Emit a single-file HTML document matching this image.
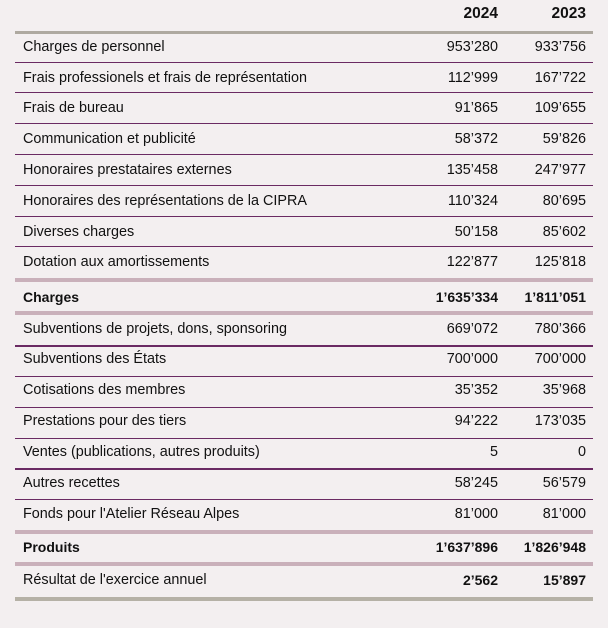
<!DOCTYPE html>
<html><head><meta charset="utf-8"><style>
body{margin:0;width:608px;height:628px;background:#f3eff0;font-family:"Liberation Sans",Arial,sans-serif;color:#111;position:relative;overflow:hidden}
.l{position:absolute;left:15px;width:578px}
.t{position:absolute;font-size:14.4px;line-height:16px;margin-top:1px}
.a{left:23px}.b{right:110px;text-align:right}.c{right:22px;text-align:right}
.bold{font-weight:bold;font-size:14px}
</style></head><body>
<div class="t b bold" style="top:5px;font-size:15.5px">2024</div>
<div class="t c bold" style="top:5px;font-size:15.5px">2023</div>
<div class="l" style="top:31px;height:3px;background:#aea9a0"></div>

<div class="t a" style="top:38px">Charges de personnel</div><div class="t b" style="top:38px">953’280</div><div class="t c" style="top:38px">933’756</div>
<div class="l" style="top:62px;height:1px;background:#6a2a63"></div>
<div class="t a" style="top:69px">Frais professionels et frais de représentation</div><div class="t b" style="top:69px">112’999</div><div class="t c" style="top:69px">167’722</div>
<div class="l" style="top:92px;height:1px;background:#6a2a63"></div>
<div class="t a" style="top:99px">Frais de bureau</div><div class="t b" style="top:99px">91’865</div><div class="t c" style="top:99px">109’655</div>
<div class="l" style="top:123px;height:1px;background:#6a2a63"></div>
<div class="t a" style="top:130px">Communication et publicité</div><div class="t b" style="top:130px">58’372</div><div class="t c" style="top:130px">59’826</div>
<div class="l" style="top:154px;height:1px;background:#6a2a63"></div>
<div class="t a" style="top:161px">Honoraires prestataires externes</div><div class="t b" style="top:161px">135’458</div><div class="t c" style="top:161px">247’977</div>
<div class="l" style="top:185px;height:1px;background:#6a2a63"></div>
<div class="t a" style="top:192px">Honoraires des représentations de la CIPRA</div><div class="t b" style="top:192px">110’324</div><div class="t c" style="top:192px">80’695</div>
<div class="l" style="top:216px;height:1px;background:#6a2a63"></div>
<div class="t a" style="top:223px">Diverses charges</div><div class="t b" style="top:223px">50’158</div><div class="t c" style="top:223px">85’602</div>
<div class="l" style="top:246px;height:1px;background:#6a2a63"></div>
<div class="t a" style="top:253px">Dotation aux amortissements</div><div class="t b" style="top:253px">122’877</div><div class="t c" style="top:253px">125’818</div>
<div class="l" style="top:278px;height:4px;background:#c9b0ba"></div>
<div class="t a bold" style="top:288px">Charges</div><div class="t b bold" style="top:288px">1’635’334</div><div class="t c bold" style="top:288px">1’811’051</div>
<div class="l" style="top:311px;height:4px;background:#c9b0ba"></div>
<div class="t a" style="top:320px">Subventions de projets, dons, sponsoring</div><div class="t b" style="top:320px">669’072</div><div class="t c" style="top:320px">780’366</div>
<div class="l" style="top:345px;height:2px;background:#6a2a63"></div>
<div class="t a" style="top:350px">Subventions des États</div><div class="t b" style="top:350px">700’000</div><div class="t c" style="top:350px">700’000</div>
<div class="l" style="top:376px;height:1px;background:#6a2a63"></div>
<div class="t a" style="top:381px">Cotisations des membres</div><div class="t b" style="top:381px">35’352</div><div class="t c" style="top:381px">35’968</div>
<div class="l" style="top:407px;height:1px;background:#6a2a63"></div>
<div class="t a" style="top:412px">Prestations pour des tiers</div><div class="t b" style="top:412px">94’222</div><div class="t c" style="top:412px">173’035</div>
<div class="l" style="top:438px;height:1px;background:#6a2a63"></div>
<div class="t a" style="top:443px">Ventes (publications, autres produits)</div><div class="t b" style="top:443px">5</div><div class="t c" style="top:443px">0</div>
<div class="l" style="top:468px;height:2px;background:#6a2a63"></div>
<div class="t a" style="top:474px">Autres recettes</div><div class="t b" style="top:474px">58’245</div><div class="t c" style="top:474px">56’579</div>
<div class="l" style="top:499px;height:1px;background:#6a2a63"></div>
<div class="t a" style="top:505px">Fonds pour l'Atelier Réseau Alpes</div><div class="t b" style="top:505px">81’000</div><div class="t c" style="top:505px">81’000</div>
<div class="l" style="top:530px;height:4px;background:#c9b0ba"></div>
<div class="t a bold" style="top:538px">Produits</div><div class="t b bold" style="top:538px">1’637’896</div><div class="t c bold" style="top:538px">1’826’948</div>
<div class="l" style="top:562px;height:4px;background:#c9b0ba"></div>
<div class="t a" style="top:571px">Résultat de l'exercice annuel</div><div class="t b bold" style="top:571px">2’562</div><div class="t c bold" style="top:571px">15’897</div>
<div class="l" style="top:597px;height:4px;background:#b5b1a6"></div>
</body></html>
